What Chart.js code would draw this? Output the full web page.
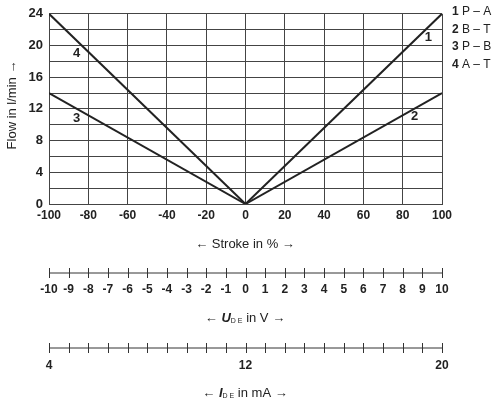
<!DOCTYPE html>
<html>
<head>
<meta charset="utf-8">
<script src="https://cdn.jsdelivr.net/npm/chart.js@4/dist/chart.umd.min.js"></script>
<style>
  html, body { margin: 0; padding: 0; background: #fff; }
  #wrap { width: 500px; height: 404px; position: relative; }
</style>
</head>
<body>
<div id="wrap"><canvas id="flowChart"></canvas></div>
<script>
// Donnees du graphique
const strokePoints = [-100, 0, 100];
const series = [
    { name: '1', text: 'P – A', data: [null, 0, 24], label: [93, 21] },
    { name: '2', text: 'B – T', data: [null, 0, 14], label: [86, 11] },
    { name: '3', text: 'P – B', data: [14, 0, null], label: [-86, 10.8] },
    { name: '4', text: 'A – T', data: [24, 0, null], label: [-86, 19] }
];
const voltTicks = [-10, -9, -8, -7, -6, -5, -4, -3, -2, -1, 0, 1, 2, 3, 4, 5, 6, 7, 8, 9, 10];
const currentTicks = [4, 4.8, 5.6, 6.4, 7.2, 8, 8.8, 9.6, 10.4, 11.2, 12, 12.8, 13.6, 14.4, 15.2, 16, 16.8, 17.6, 18.4, 19.2, 20];
const currentLabels = [4, 12, 20];

const FONT = "'Liberation Sans Narrow', 'Liberation Sans', sans-serif";

// Axes supplementaires, legende et numeros des courbes
const extras = {
    id: 'extras',
    afterDraw(chart) {
        const ctx = chart.ctx;
        const x = chart.scales.x, y = chart.scales.y;
        ctx.save();
        ctx.fillStyle = '#222';
        ctx.textAlign = 'center';
        ctx.textBaseline = 'middle';

        // numeros des courbes
        ctx.font = 'bold 13px ' + FONT;
        series.forEach(s => {
            ctx.fillText(s.name, x.getPixelForValue(s.label[0]), y.getPixelForValue(s.label[1]));
        });

        // titres
        ctx.font = '13px ' + FONT;
        ctx.fillText('← Stroke in % →', 245, 244);
        ctx.save();
        ctx.translate(12, 105);
        ctx.rotate(-Math.PI / 2);
        ctx.fillText('Flow in l/min →', 0, 0);
        ctx.restore();

        function subAxis(ticks, mapFn, yLine, labels, labelY) {
            ctx.strokeStyle = '#333';
            ctx.lineWidth = 1;
            ctx.beginPath();
            ctx.moveTo(x.left, yLine);
            ctx.lineTo(x.right, yLine);
            ticks.forEach(t => {
                const px = Math.round(x.getPixelForValue(mapFn(t))) + 0.5;
                ctx.moveTo(px, yLine - 5);
                ctx.lineTo(px, yLine + 5);
            });
            ctx.stroke();
            ctx.font = 'bold 12px ' + FONT;
            labels.forEach(t => ctx.fillText(String(t), x.getPixelForValue(mapFn(t)), labelY));
        }
        subAxis(voltTicks, v => v * 10, 273, voltTicks, 290);
        subAxis(currentTicks, a => (a - 12) * 12.5, 348, currentLabels, 366);

        // titres U et I avec indice
        function subTitle(sym, unit, yy) {
            ctx.textAlign = 'left';
            ctx.font = '13px ' + FONT;
            const w1 = ctx.measureText('← ').width;
            ctx.font = 'bold italic 13px ' + FONT;
            const w2 = ctx.measureText(sym).width;
            ctx.font = '7px ' + FONT;
            const w3 = ctx.measureText('D E').width;
            ctx.font = '13px ' + FONT;
            const w4 = ctx.measureText(' ' + unit + ' →').width;
            let cx = 245 - (w1 + w2 + w3 + w4) / 2;
            ctx.fillText('← ', cx, yy); cx += w1;
            ctx.font = 'bold italic 13px ' + FONT;
            ctx.fillText(sym, cx, yy); cx += w2;
            ctx.font = '7px ' + FONT;
            ctx.fillText('D E', cx, yy + 3); cx += w3;
            ctx.font = '13px ' + FONT;
            ctx.fillText(' ' + unit + ' →', cx, yy);
            ctx.textAlign = 'center';
        }
        subTitle('U', 'in V', 318);
        subTitle('I', 'in mA', 393);

        // legende
        ctx.textAlign = 'left';
        series.forEach((s, i) => {
            const yy = 12 + i * 17.5;
            ctx.font = 'bold 12px ' + FONT;
            ctx.fillText(s.name, 452, yy);
            ctx.font = '12px ' + FONT;
            ctx.fillText(s.text, 462, yy);
        });
        ctx.restore();
    }
};

const flowCtx = document.getElementById('flowChart').getContext('2d');
const flowChart = new Chart(flowCtx, {
    type: 'line',
    data: {
        labels: strokePoints,
        datasets: series.map(s => ({
            label: s.name,
            data: s.data.map((v, i) => ({ x: strokePoints[i], y: v })),
            borderColor: '#222',
            borderWidth: 2,
            pointRadius: 0,
            spanGaps: false,
            tension: 0
        }))
    },
    options: {
        responsive: true,
        maintainAspectRatio: false,
        animation: false,
        layout: { padding: { top: 7, right: 58, left: 0, bottom: 0 } },
        plugins: { legend: { display: false }, tooltip: { enabled: false } },
        scales: {
            x: {
                type: 'linear',
                min: -100, max: 100,
                afterFit: s => { s.height = 200; },
                grid: { color: '#444', lineWidth: 1, drawTicks: false },
                border: { color: '#444' },
                ticks: {
                    stepSize: 20, autoSkip: false, maxRotation: 0, padding: 4,
                    color: '#222', font: { family: FONT, size: 12, weight: 'bold' }
                }
            },
            y: {
                min: 0, max: 24,
                afterFit: s => { s.width = 49; },
                grid: { color: '#444', lineWidth: 1, drawTicks: false },
                border: { color: '#444' },
                ticks: {
                    stepSize: 2, autoSkip: false, padding: 6,
                    color: '#222', font: { family: FONT, size: 13, weight: 'bold' },
                    callback: v => (v % 4 === 0 ? String(v) : '')
                }
            }
        }
    },
    plugins: [extras]
});
</script>
</body>
</html>
